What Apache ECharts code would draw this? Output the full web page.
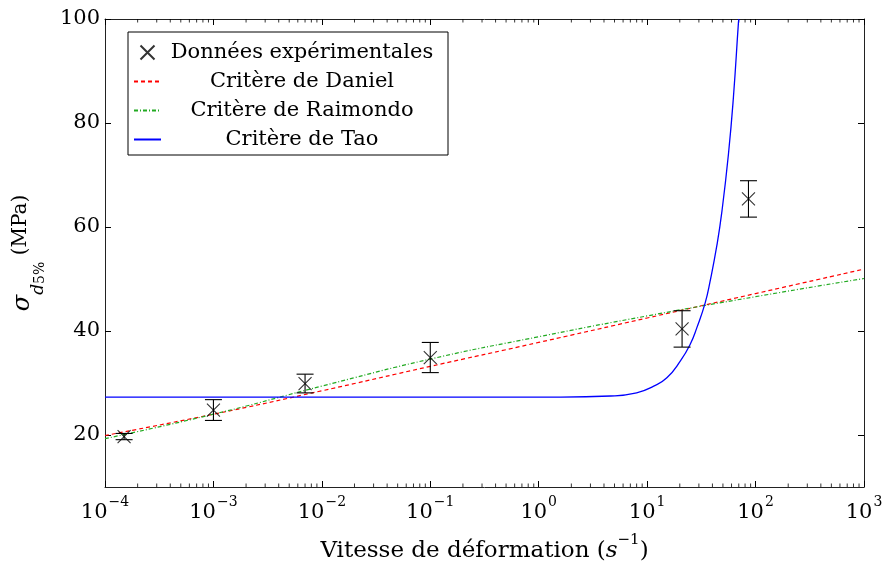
<!DOCTYPE html>
<html><head><meta charset="utf-8">
<script src="https://cdn.jsdelivr.net/npm/echarts@6/dist/echarts.min.js"></script>
<style>html,body{margin:0;padding:0;background:#fff}#c{width:882px;height:566px}</style>
</head><body><div id="c"></div>
<script>
// ---- data ----
const expX   = [1.5e-4, 1.0e-3, 7.0e-3, 1.0e-1, 21, 86];
const expY   = [19.7, 24.8, 29.9, 34.9, 40.4, 65.4];
const expErr = [0.6, 2.0, 1.8, 2.9, 3.5, 3.5];

const critX     = [1e-4, 1e-3, 1e-2, 1e-1, 1, 10, 100, 1000];
const danielY   = [19.9, 24.0, 28.5, 33.2, 37.8, 42.5, 47.2, 51.9];
const raimondoY = [19.3, 24.0, 29.4, 34.6, 38.9, 42.9, 46.6, 50.1];

const taoX = [1e-4, 1e-2, 1.6, 4.6, 8.0, 11.5, 15.2, 20.2, 24.9, 28.7, 34.3, 38.1, 44.0, 48.8, 56.2, 62.5, 69.5, 70.1];
const taoY = [27.3, 27.3, 27.3, 27.5, 28.1, 29.4, 31.0, 34.2, 37.4, 40.6, 45.4, 49.6, 56.5, 62.8, 74.0, 85.0, 99.3, 100];

const xTickExp = [-4, -3, -2, -1, 0, 1, 2, 3];
const yTicks = [20, 40, 60, 80, 100];
const names = ['Données expérimentales', 'Critère de Daniel', 'Critère de Raimondo', 'Critère de Tao'];

// ---- derived ----
const FONT = 'DejaVu Serif';
const xMajor = xTickExp.map(e => Math.pow(10, e));
const xMinor = [];
for (let e = -4; e < 3; e++) for (let m = 2; m <= 9; m++) xMinor.push(m * Math.pow(10, e));
function expLabel(v){
  const e = Math.round(Math.log10(v));
  return '{b|10}{s|' + String(e).replace('-', '−') + '}';
}
const pair = (xs, ys) => xs.map((x, i) => [x, ys[i]]);

const chart = echarts.init(document.getElementById('c'), null, {renderer: 'canvas'});
const axisLineStyle = {color: '#222', width: 1};
const labelRich = {
  b: {fontFamily: FONT, fontSize: 21, color: '#000', verticalAlign: 'bottom', lineHeight: 28},
  s: {fontFamily: FONT, fontSize: 14, color: '#000', verticalAlign: 'top', lineHeight: 28, padding: [0,0,0,1]}
};
const legendRich = {c: {width: 272, align: 'center', fontFamily: FONT, fontSize: 21, color: '#000', lineHeight: 24}};
const hideSym = {color: 'rgba(0,0,0,0)', borderWidth: 0, opacity: 0};

chart.setOption({
  animation: false,
  backgroundColor: '#fff',
  grid: {left: 105, right: 18, top: 19, bottom: 79, containLabel: false, outerBoundsMode: 'none'},
  legend: {
    left: 128, top: 32, orient: 'vertical',
    data: [
      {name: names[0]},
      {name: names[1], itemStyle: hideSym},
      {name: names[2], itemStyle: hideSym},
      {name: names[3], itemStyle: hideSym}
    ],
    itemWidth: 27, itemHeight: 14, itemGap: 8,
    padding: [10, 10, 5, 5],
    borderColor: '#000', borderWidth: 1, backgroundColor: '#fff',
    formatter: n => '{c|' + n + '}',
    textStyle: {rich: legendRich},
    selectedMode: false
  },
  xAxis: [{
    type: 'log', min: 1e-4, max: 1e3, logBase: 10,
    position: 'bottom',
    axisLine: {lineStyle: axisLineStyle},
    axisTick: {inside: true, length: 6, lineStyle: {color: '#000'}, customValues: xMajor},
    axisLabel: {customValues: xMajor, formatter: expLabel, rich: labelRich, margin: 8},
    splitLine: {show: false},
    name: '{n|Vitesse de déformation (}{i|s}{s|−1}{n|)}',
    nameLocation: 'middle', nameGap: 46,
    nameTextStyle: {rich: {
      n: {fontFamily: FONT, fontSize: 23, color: '#000', verticalAlign: 'bottom', lineHeight: 30},
      i: {fontFamily: FONT, fontStyle: 'italic', fontSize: 23, color: '#000', verticalAlign: 'bottom', lineHeight: 30},
      s: {fontFamily: FONT, fontSize: 15, color: '#000', verticalAlign: 'top', lineHeight: 30}
    }}
  }, {
    type: 'log', min: 1e-4, max: 1e3, logBase: 10,
    position: 'top',
    axisLine: {lineStyle: axisLineStyle},
    axisTick: {inside: true, length: 6, lineStyle: {color: '#000'}, customValues: xMajor},
    axisLabel: {show: false},
    splitLine: {show: false}
  }],
  yAxis: [{
    type: 'value', min: 10, max: 100,
    axisLine: {show: true, lineStyle: axisLineStyle},
    axisTick: {show: true, inside: true, length: 6, lineStyle: {color: '#000'}, customValues: yTicks},
    axisLabel: {customValues: yTicks, fontFamily: FONT, fontSize: 21, color: '#000', margin: 5},
    splitLine: {show: false},
    name: '{g|σ}{d|d}{p|5%}{n| (MPa)}',
    nameLocation: 'middle', nameGap: 58, nameRotate: 90,
    nameTextStyle: {rich: {
      g: {fontFamily: FONT, fontStyle: 'italic', fontSize: 24, color: '#000', verticalAlign: 'top', lineHeight: 36},
      d: {fontFamily: FONT, fontStyle: 'italic', fontSize: 17, color: '#000', verticalAlign: 'bottom', lineHeight: 32},
      p: {fontFamily: FONT, fontSize: 14, color: '#000', verticalAlign: 'bottom', lineHeight: 26},
      n: {fontFamily: FONT, fontSize: 20, color: '#000', verticalAlign: 'top', lineHeight: 36}
    }}
  }, {
    type: 'value', min: 10, max: 100, position: 'right',
    axisLine: {show: true, lineStyle: axisLineStyle},
    axisTick: {show: true, inside: true, length: 6, lineStyle: {color: '#000'}, customValues: yTicks},
    axisLabel: {show: false},
    splitLine: {show: false}
  }],
  series: [
    {
      name: names[0], type: 'scatter', data: pair(expX, expY),
      symbol: 'path://M0,0L10,10M10,0L0,10', symbolSize: 13,
      itemStyle: {color: 'rgba(0,0,0,0)', borderColor: '#000', borderWidth: 1.1},
      z: 5
    },
    {
      name: 'err', type: 'custom',
      data: expX.map((x, i) => [x, expY[i] - expErr[i], expY[i] + expErr[i]]),
      encode: {x: 0, y: [1, 2]},
      silent: true, z: 4,
      renderItem: (params, api) => {
        const lo = api.coord([api.value(0), api.value(1)]);
        const hi = api.coord([api.value(0), api.value(2)]);
        const h = 8.5, st = {stroke: '#000', lineWidth: 1.1};
        return {type: 'group', children: [
          {type: 'line', shape: {x1: lo[0], y1: lo[1], x2: hi[0], y2: hi[1]}, style: st},
          {type: 'line', shape: {x1: lo[0]-h, y1: lo[1], x2: lo[0]+h, y2: lo[1]}, style: st},
          {type: 'line', shape: {x1: hi[0]-h, y1: hi[1], x2: hi[0]+h, y2: hi[1]}, style: st}
        ]};
      }
    },
    {
      name: names[1], type: 'line', data: pair(critX, danielY), smooth: true,
      symbol: 'none', lineStyle: {color: '#ff0000', width: 1.2, type: [4, 3]},
      itemStyle: {color: '#ff0000'}, z: 3
    },
    {
      name: names[2], type: 'line', data: pair(critX, raimondoY), smooth: true,
      symbol: 'none', lineStyle: {color: '#22aa22', width: 1.2, type: [4, 2, 1, 2]},
      itemStyle: {color: '#22aa22'}, z: 3
    },
    {
      name: names[3], type: 'line', data: pair(taoX, taoY), smooth: 0.5,
      symbol: 'none', lineStyle: {color: '#0000ff', width: 1.3},
      itemStyle: {color: '#0000ff'}, z: 3
    },
    {
      name: 'minor', type: 'custom', silent: true, clip: false,
      data: xMinor.map(v => [v, 10]),
      renderItem: (params, api) => {
        const b = api.coord([api.value(0), 10]);
        const t = api.coord([api.value(0), 100]);
        const st = {stroke: '#000', lineWidth: 0.8};
        return {type: 'group', children: [
          {type: 'line', shape: {x1: b[0], y1: b[1], x2: b[0], y2: b[1] - 3.5}, style: st},
          {type: 'line', shape: {x1: t[0], y1: t[1], x2: t[0], y2: t[1] + 3.5}, style: st}
        ]};
      }
    }
  ]
});
</script></body></html>
